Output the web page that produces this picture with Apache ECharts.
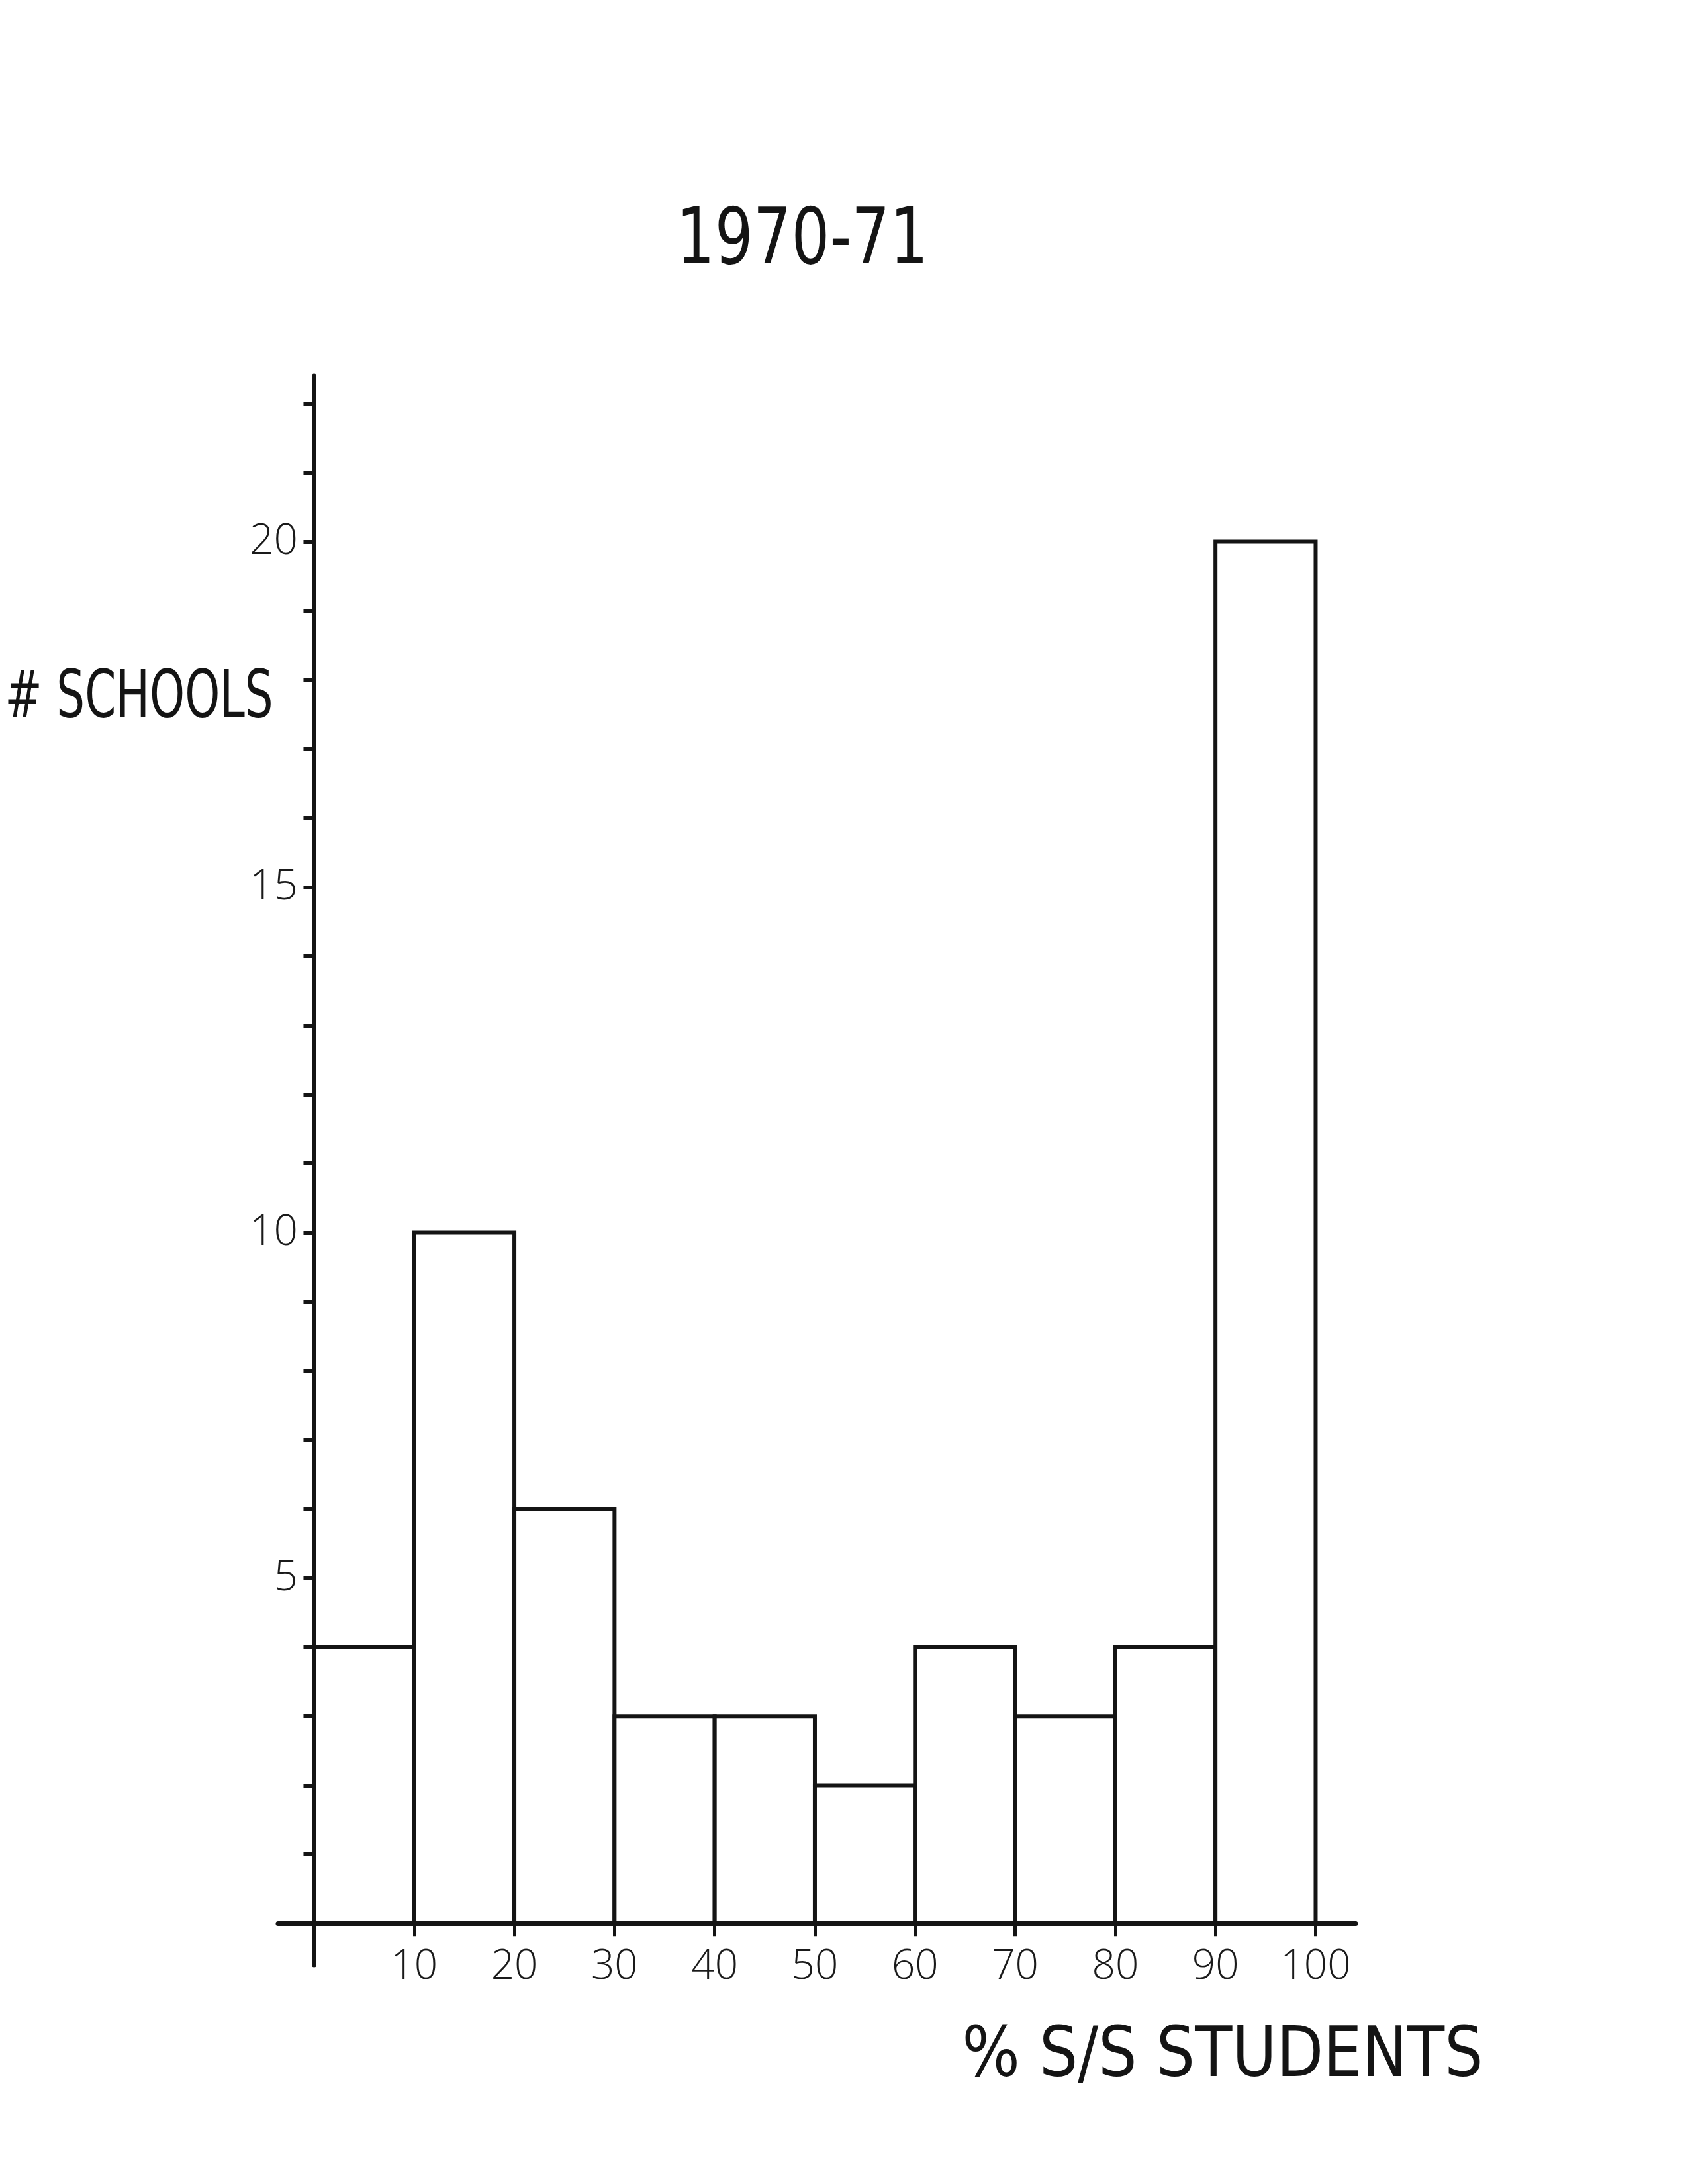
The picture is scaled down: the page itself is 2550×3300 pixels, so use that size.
<!DOCTYPE html>
<html>
<head>
<meta charset="utf-8">
<style>
  html, body { margin: 0; padding: 0; background: #ffffff; }
  #chart { width: 2550px; height: 3300px; }
</style>
<script src="https://cdn.jsdelivr.net/npm/echarts@6/dist/echarts.min.js"></script>
</head>
<body>
<div id="chart"></div>
<script>
// ---- data ----
var binStart = [0, 10, 20, 30, 40, 50, 60, 70, 80, 90];
var binEnd   = [10, 20, 30, 40, 50, 60, 70, 80, 90, 100];
var counts   = [4, 10, 6, 3, 3, 2, 4, 3, 4, 20];
var xTickValues = [10, 20, 30, 40, 50, 60, 70, 80, 90, 100];
var yTickValues = [1, 2, 3, 4, 5, 6, 7, 8, 9, 10, 11, 12, 13, 14, 15, 16, 17, 18, 19, 20, 21, 22];
var yLabelValues = [5, 10, 15, 20];
var titleText = '1970-71';
var yName = '# SCHOOLS';
var xName = '% S/S STUDENTS';

var seriesData = binStart.map(function (s, i) { return [s, binEnd[i], counts[i]]; });

var ink = '#141414';
var chart = echarts.init(document.getElementById('chart'), null, { renderer: 'canvas' });

chart.setOption({
  backgroundColor: '#ffffff',
  animation: false,
  grid: { left: 420, right: 502, top: 568, bottom: 331, containLabel: false },
  xAxis: {
    type: 'value', min: -3.6, max: 104, z: 5,
    axisLine: { show: true, onZero: true, lineStyle: { color: ink, width: 7 } },
    axisTick: { show: true, customValues: xTickValues, length: 20, lineStyle: { color: ink, width: 5 } },
    axisLabel: { show: true, customValues: xTickValues, margin: -28, color: '#1a1a1a', fontSize: 62,
                 fontFamily: 'Open Sans', fontWeight: 300 },
    splitLine: { show: false }
  },
  yAxis: {
    type: 'value', min: -0.6, max: 22.4, z: 5,
    axisLine: { show: true, onZero: true, lineStyle: { color: ink, width: 7 } },
    axisTick: { show: true, customValues: yTickValues, length: 16, lineStyle: { color: ink, width: 6 } },
    axisLabel: { show: true, customValues: yLabelValues, margin: -30, color: '#1a1a1a', fontSize: 64,
                 fontFamily: 'Open Sans', fontWeight: 300 },
    splitLine: { show: false }
  },
  graphic: [
    { type: 'text', x: 1212, y: 368, z: 10, scaleX: 0.865,
      style: { text: titleText, align: 'center', verticalAlign: 'middle', fill: ink,
               fontSize: 117, fontFamily: 'DejaVu Sans Condensed', fontWeight: 'normal' } },
    { type: 'text', x: 210, y: 1058, z: 10, scaleX: 0.75,
      style: { text: yName, align: 'center', verticalAlign: 'middle', fill: ink,
               fontSize: 100, fontFamily: 'DejaVu Sans Condensed', fontWeight: 'normal' } },
    { type: 'text', x: 1847, y: 3110, z: 10, scaleX: 0.875,
      style: { text: xName, align: 'center', verticalAlign: 'middle', fill: ink,
               fontSize: 105, fontFamily: 'DejaVu Sans', fontWeight: 'normal' } }
  ],
  series: [{
    type: 'custom',
    z: 2,
    data: seriesData,
    encode: { x: [0, 1], y: 2 },
    renderItem: function (params, api) {
      var p0 = api.coord([api.value(0), 0]);
      var p1 = api.coord([api.value(1), api.value(2)]);
      return {
        type: 'rect',
        shape: { x: p0[0], y: p1[1], width: p1[0] - p0[0], height: p0[1] - p1[1] },
        style: { fill: '#ffffff', stroke: ink, lineWidth: 6 }
      };
    }
  }]
});
</script>
</body>
</html>
